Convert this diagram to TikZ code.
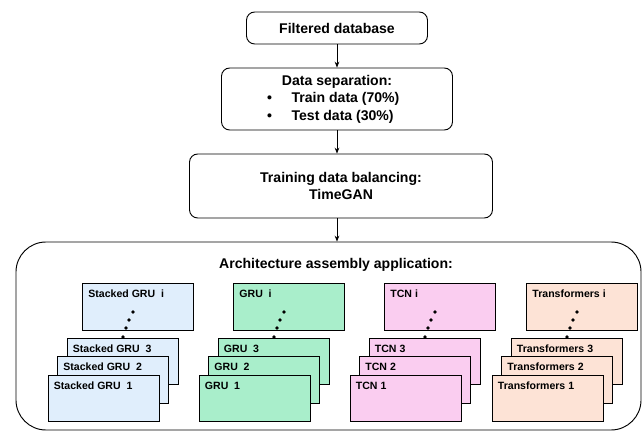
\documentclass[tikz,border=0pt]{standalone}
\usepackage{fontspec}
\setmainfont{Liberation Sans}
\usetikzlibrary{arrows.meta}
\definecolor{sgblue}{HTML}{E0EEFC}
\definecolor{grgreen}{HTML}{A9EECB}
\definecolor{tcpink}{HTML}{FACDF0}
\definecolor{trpeach}{HTML}{FDE3D6}
\tikzset{
  flow/.style={draw, line width=0.8pt, rounded corners=7pt, align=center,
    font=\bfseries\fontsize{12}{15}\selectfont},
  gbox/.style={draw, line width=0.8pt, minimum width=3.33cm, minimum height=1.4cm},
  lbl/.style={anchor=west, inner sep=1pt, xshift=0.15cm, yshift=-0.33cm,
    font=\bfseries\fontsize{9}{10}\selectfont}
}
\begin{document}
\begin{tikzpicture}[x=0.03cm, y=-0.03cm, >={Stealth[length=5pt,width=4pt]}]
    \useasboundingbox (0,0) rectangle (644,432);
    \node[flow, minimum width=5.43cm, minimum height=0.96cm] (fdb) at (337,28) {Filtered database};
    \node[flow, minimum width=6.93cm, minimum height=1.86cm] (sep) at (337,99)
      {Data separation:\\
       \makebox[4.2cm][l]{\textbullet\hspace{1.4em}Train data (70\%)}\\
       \makebox[4.2cm][l]{\textbullet\hspace{1.4em}Test data (30\%)}};
    \node[flow, minimum width=9.09cm, minimum height=1.92cm] (bal) at (341,186)
      {Training data balancing:\\TimeGAN};
    \node[draw, line width=0.8pt, rounded corners=0.9cm, minimum width=18.75cm,
      minimum height=5.64cm] (arch) at (328.5,336) {};
    \node[font=\bfseries\fontsize{12}{15}\selectfont] (title) at (336,265)
      {Architecture assembly application:};
    \draw[->, line width=0.8pt] (fdb) -- (sep);
    \draw[->, line width=0.8pt] (sep) -- (sep |- bal.north);
    \draw[->, line width=0.8pt] (sep |- bal.south) -- (sep |- arch.north);
    % four model families
    \foreach \g/\L/\c/\t in {sg/48/sgblue/{Stacked GRU~~}, gr/199/grgreen/{GRU~~},
                             tc/350/tcpink/{TCN~}, tr/492/trpeach/{Transformers~}} {
      \node[gbox, fill=\c, label={[lbl]north west:\t i}] (\g i) at (\L+90,307) {};
      \node[gbox, fill=\c, label={[lbl]north west:\t 3}] (\g 3) at (\L+74.5,361.5) {};
      \node[gbox, fill=\c, label={[lbl]north west:\t 2}] (\g 2) at (\L+65,380) {};
      \node[gbox, fill=\c, label={[lbl]north west:\t 1}] (\g 1) at (\L+55.5,398.5) {};
      \foreach \dx/\dy in {85/312, 81/320, 78/328, 75/337}
        \fill (\L+\dx,\dy) circle[radius=1.6pt];
    }
\end{tikzpicture}
\end{document}
